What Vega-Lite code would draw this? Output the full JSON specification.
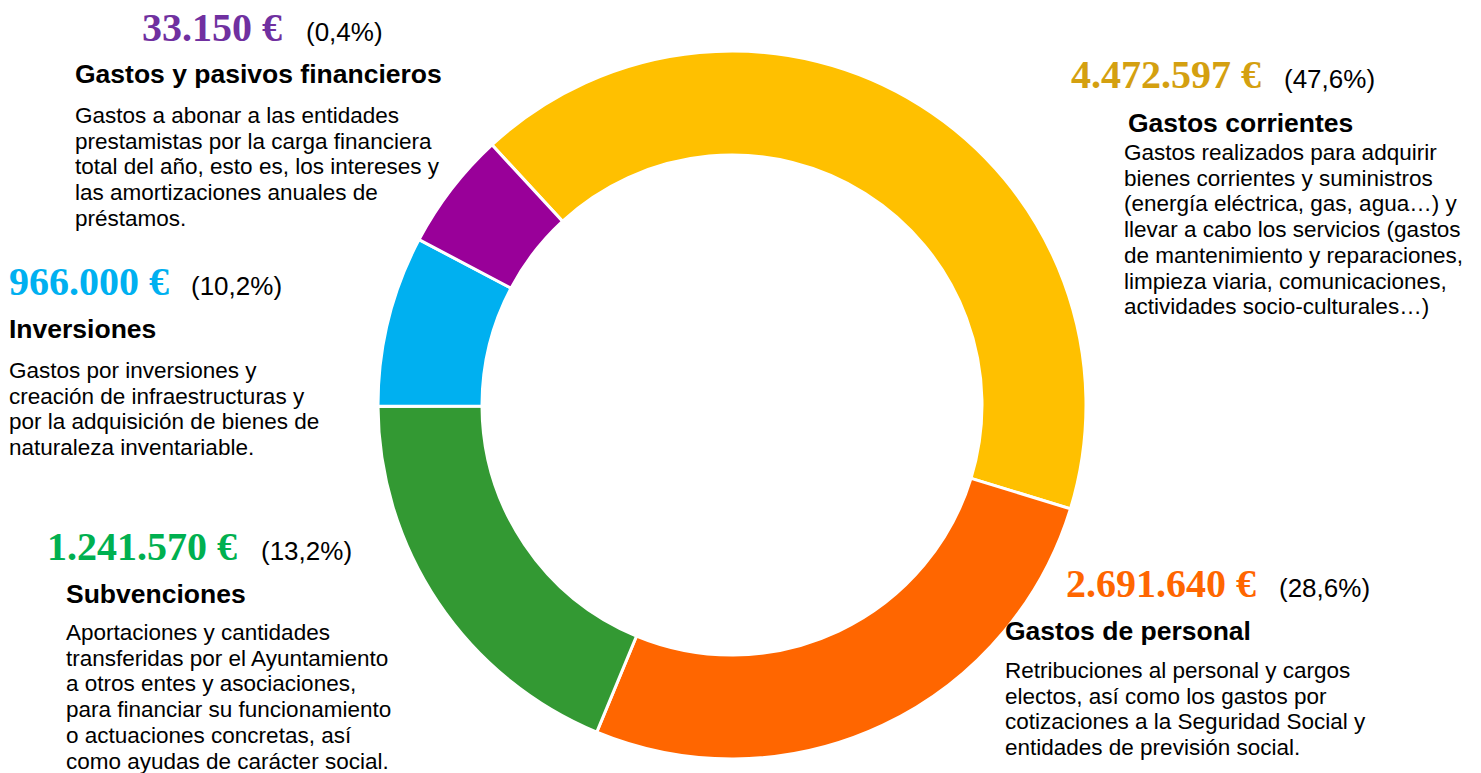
{
  "$schema": "https://vega.github.io/schema/vega-lite/v6.json",
  "width": 1464,
  "height": 736,
  "autosize": {"type": "none"},
  "padding": {"left": 0, "top": 37, "right": 17, "bottom": 0},
  "background": "white",
  "config": {"view": {"stroke": null}},
  "data": {
    "values": [
      {"orden": 1, "categoria": "Gastos corrientes", "importe": 4472597, "importe_texto": "4.472.597 €", "porcentaje": "(47,6%)", "porcion": 41.6,
       "descripcion": ["Gastos realizados para adquirir", "bienes corrientes y suministros", "(energía eléctrica, gas, agua…) y", "llevar a cabo los servicios (gastos", "de mantenimiento y reparaciones,", "limpieza viaria, comunicaciones,", "actividades socio-culturales…)"]},
      {"orden": 2, "categoria": "Gastos de personal", "importe": 2691640, "importe_texto": "2.691.640 €", "porcentaje": "(28,6%)", "porcion": 26.5,
       "descripcion": ["Retribuciones al personal y cargos", "electos, así como los gastos por", "cotizaciones a la Seguridad Social y", "entidades de previsión social."]},
      {"orden": 3, "categoria": "Subvenciones", "importe": 1241570, "importe_texto": "1.241.570 €", "porcentaje": "(13,2%)", "porcion": 18.7,
       "descripcion": ["Aportaciones y cantidades", "transferidas por el Ayuntamiento", "a otros entes y asociaciones,", "para financiar su funcionamiento", "o actuaciones concretas, así", "como ayudas de carácter social."]},
      {"orden": 4, "categoria": "Inversiones", "importe": 966000, "importe_texto": "966.000 €", "porcentaje": "(10,2%)", "porcion": 7.8,
       "descripcion": ["Gastos por inversiones y", "creación de infraestructuras y", "por la adquisición de bienes de", "naturaleza inventariable."]},
      {"orden": 5, "categoria": "Gastos y pasivos financieros", "importe": 33150, "importe_texto": "33.150 €", "porcentaje": "(0,4%)", "porcion": 5.4,
       "descripcion": ["Gastos a abonar a las entidades", "prestamistas por la carga financiera", "total del año, esto es, los intereses y", "las amortizaciones anuales de", "préstamos."]}
    ]
  },
  "layer": [
    {
      "mark": {"type": "arc", "outerRadius": 354, "innerRadius": 250, "stroke": "white", "strokeWidth": 3},
      "encoding": {
        "theta": {"field": "porcion", "type": "quantitative", "stack": true, "scale": {"range": [-0.7453, 5.5379]}},
        "order": {"field": "orden", "type": "quantitative", "sort": "ascending"},
        "color": {"field": "categoria", "type": "nominal",
          "scale": {"domain": ["Gastos corrientes", "Gastos de personal", "Subvenciones", "Inversiones", "Gastos y pasivos financieros"],
                    "range": ["#FFC000", "#FF6600", "#339933", "#00B0F0", "#990099"]},
          "legend": null}
      }
    },
    {
      "mark": {"type": "text", "align": "left", "baseline": "alphabetic", "font": "Liberation Serif", "fontWeight": "bold", "fontSize": 40},
      "encoding": {
        "x": {"field": "orden", "type": "quantitative", "axis": null, "scale": {"domain": [1, 2, 3, 4, 5], "range": [1071, 1066, 47, 9, 142], "nice": false, "zero": false}},
        "y": {"field": "orden", "type": "quantitative", "axis": null, "scale": {"domain": [1, 2, 3, 4, 5], "range": [51, 560, 523, 258, 4], "nice": false, "zero": false}},
        "text": {"field": "importe_texto", "type": "nominal"},
        "color": {"field": "categoria", "type": "nominal",
          "scale": {"domain": ["Gastos corrientes", "Gastos de personal", "Subvenciones", "Inversiones", "Gastos y pasivos financieros"],
                    "range": ["#D4A010", "#FF6600", "#00B050", "#00B0F0", "#7030A0"]},
          "legend": null}
      }
    },
    {
      "mark": {"type": "text", "align": "left", "baseline": "alphabetic", "font": "Liberation Sans", "fontSize": 26, "color": "#000000"},
      "encoding": {
        "x": {"field": "orden", "type": "quantitative", "axis": null, "scale": {"domain": [1, 2, 3, 4, 5], "range": [1284, 1279, 261, 191, 306], "nice": false, "zero": false}},
        "y": {"field": "orden", "type": "quantitative", "axis": null, "scale": {"domain": [1, 2, 3, 4, 5], "range": [51, 560, 523, 258, 4], "nice": false, "zero": false}},
        "text": {"field": "porcentaje", "type": "nominal"}
      }
    },
    {
      "mark": {"type": "text", "align": "left", "baseline": "alphabetic", "font": "Liberation Sans", "fontWeight": "bold", "fontSize": 26.5, "color": "#000000"},
      "encoding": {
        "x": {"field": "orden", "type": "quantitative", "axis": null, "scale": {"domain": [1, 2, 3, 4, 5], "range": [1128, 1005, 66, 9, 75], "nice": false, "zero": false}},
        "y": {"field": "orden", "type": "quantitative", "axis": null, "scale": {"domain": [1, 2, 3, 4, 5], "range": [95, 603, 566, 301, 46], "nice": false, "zero": false}},
        "text": {"field": "categoria", "type": "nominal"}
      }
    },
    {
      "mark": {"type": "text", "align": "left", "baseline": "alphabetic", "font": "Liberation Sans", "fontSize": 22.5, "lineHeight": 25.7, "color": "#000000"},
      "encoding": {
        "x": {"field": "orden", "type": "quantitative", "axis": null, "scale": {"domain": [1, 2, 3, 4, 5], "range": [1124, 1005, 66, 9, 75], "nice": false, "zero": false}},
        "y": {"field": "orden", "type": "quantitative", "axis": null, "scale": {"domain": [1, 2, 3, 4, 5], "range": [123, 641, 603, 341, 86], "nice": false, "zero": false}},
        "text": {"field": "descripcion", "type": "nominal"}
      }
    }
  ],
  "resolve": {"scale": {"x": "independent", "y": "independent", "color": "independent"}}
}
